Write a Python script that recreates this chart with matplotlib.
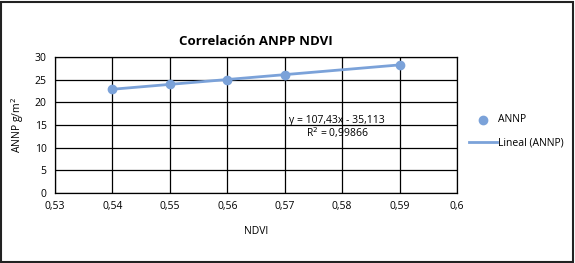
import numpy as np
import matplotlib.pyplot as plt
from matplotlib.patches import Rectangle

# data
ndvi = [0.54, 0.55, 0.56, 0.57, 0.59]
annp = [23, 24, 25, 26, 28.2]
slope, intercept = 107.43, -35.113
r2 = 0.99866

x_ticks = [0.53, 0.54, 0.55, 0.56, 0.57, 0.58, 0.59, 0.6]
y_ticks = [0, 5, 10, 15, 20, 25, 30]

plt.rcParams['font.family'] = ['Open Sans', 'DejaVu Sans']

fig = plt.figure(figsize=(5.75, 2.63), dpi=100)
ax = fig.add_axes([0.0957, 0.266, 0.699, 0.517])

blue = '#7ba2d9'
xs = np.array([ndvi[0], ndvi[-1]])
ax.plot(xs, slope * xs + intercept, color=blue, lw=2, label='Lineal (ANNP)', zorder=3)
ax.scatter(ndvi, annp, s=36, color=blue, label='ANNP', zorder=4)

ax.set_xlim(0.53, 0.6)
ax.set_ylim(0, 30)
ax.set_xticks(x_ticks)
ax.set_xticklabels([str(t).replace('.', ',') for t in x_ticks])
ax.set_yticks(y_ticks)
ax.tick_params(length=0, labelsize=7.5, pad=6)
ax.grid(True, color='black', lw=0.9)
for s in ax.spines.values():
    s.set_color('black')
    s.set_linewidth(0.9)

ax.set_title('Correlación ANPP NDVI', fontsize=9.5, fontweight='bold', pad=9)
ax.set_xlabel('NDVI', fontsize=7.5, labelpad=10)
ax.set_ylabel('ANNP g/m$^2$', fontsize=7.5, labelpad=6)

ax.text(0.5791, 16.0, 'y = 107,43x - 35,113', fontsize=7.5, ha='center', va='center')
ax.text(0.5791, 13.3, 'R$^2$ = 0,99866', fontsize=7.5, ha='center', va='center')

h, l = ax.get_legend_handles_labels()
fig.legend(h[::-1], l[::-1], loc='center left', bbox_to_anchor=(0.799, 0.5), frameon=False,
           fontsize=7.5, handlelength=2.7, handletextpad=0.1, labelspacing=1.2)

fig.add_artist(Rectangle((0.002, 0.004), 0.995, 0.99, transform=fig.transFigure,
                         fill=False, edgecolor='#222222', lw=1.5))

fig.savefig('out.png', dpi=100)
